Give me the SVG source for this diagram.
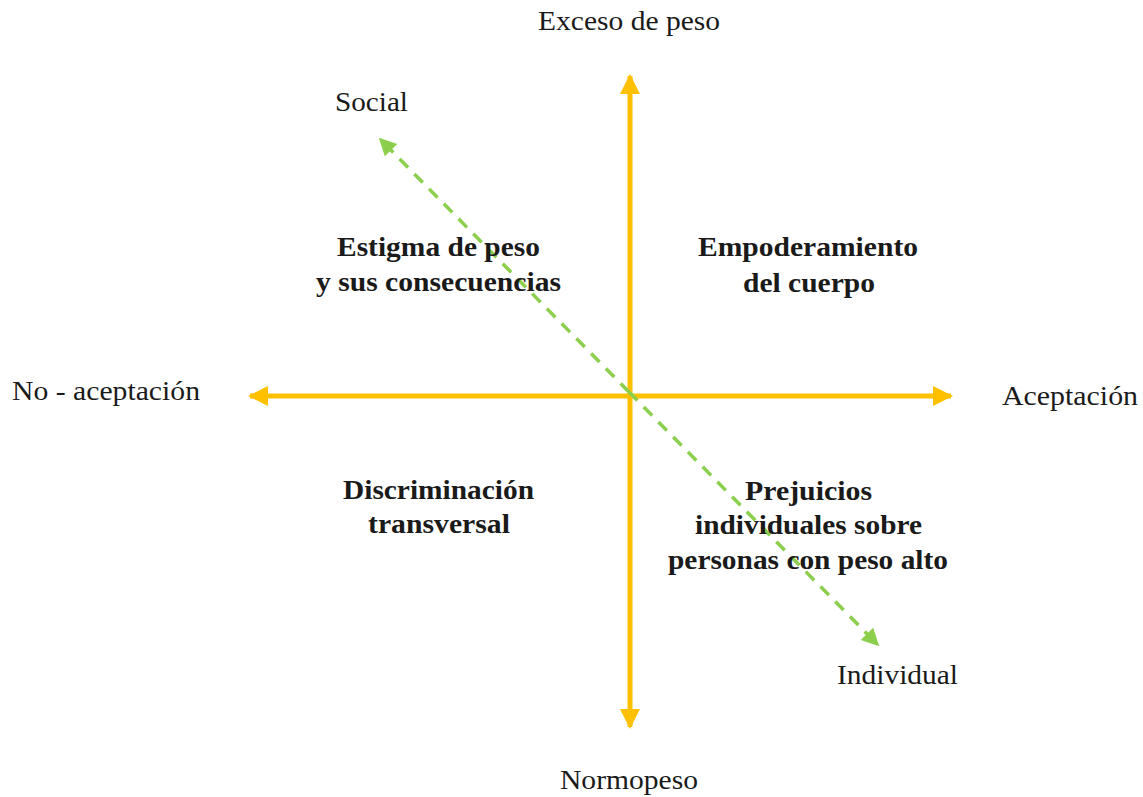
<svg xmlns="http://www.w3.org/2000/svg" width="1143" height="797" viewBox="0 0 1143 797">
<style>
.lbl{font-family:"Liberation Serif","Times New Roman",serif;font-size:27px;fill:#1a1a1a;text-anchor:middle}
.q{font-family:"Liberation Serif","Times New Roman",serif;font-size:27px;font-weight:bold;fill:#1a1a1a;text-anchor:middle}
.ax{stroke:#FFC000;stroke-width:5;fill:none}
.dg{stroke:#8CCF4D;stroke-width:3.5;stroke-dasharray:12,9;fill:none}
</style>
<defs>
<marker id="ya" viewBox="0 0 10 10" refX="9" refY="5" markerWidth="4" markerHeight="4.4" orient="auto" markerUnits="strokeWidth">
<path d="M0,0 L10,5 L0,10 Z" fill="#FFC000"/>
</marker>
<marker id="ga" viewBox="0 0 10 10" refX="9" refY="5" markerWidth="5.5" markerHeight="5" orient="auto" markerUnits="strokeWidth">
<path d="M0,0 L10,5 L0,10 Z" fill="#8CCF4D"/>
</marker>
</defs>
<rect width="1143" height="797" fill="#fff"/>
<g id="connectors">
<line class="ax" x1="630" y1="396" x2="630" y2="76" marker-end="url(#ya)"/>
<line class="ax" x1="630" y1="396" x2="630" y2="727" marker-end="url(#ya)"/>
<line class="ax" x1="630" y1="396" x2="250" y2="396" marker-end="url(#ya)"/>
<line class="ax" x1="630" y1="396" x2="951" y2="396" marker-end="url(#ya)"/>
<line class="dg" x1="629" y1="392" x2="380" y2="139" marker-end="url(#ga)"/>
<line class="dg" x1="629" y1="392" x2="878" y2="645" marker-end="url(#ga)"/>
</g>
<g id="n-exceso"><text class="lbl" x="629" y="30" textLength="182" lengthAdjust="spacingAndGlyphs">Exceso de peso</text></g>
<g id="n-normopeso"><text class="lbl" x="629" y="789" textLength="138" lengthAdjust="spacingAndGlyphs">Normopeso</text></g>
<g id="n-noaceptacion"><text class="lbl" x="106" y="400" textLength="188" lengthAdjust="spacingAndGlyphs">No - aceptación</text></g>
<g id="n-aceptacion"><text class="lbl" x="1070" y="405" textLength="136" lengthAdjust="spacingAndGlyphs">Aceptación</text></g>
<g id="n-social"><text class="lbl" x="371.5" y="111" textLength="73" lengthAdjust="spacingAndGlyphs">Social</text></g>
<g id="n-individual"><text class="lbl" x="897.5" y="684" textLength="121" lengthAdjust="spacingAndGlyphs">Individual</text></g>
<g id="q-estigma"><text class="q" x="438.5" y="256" textLength="203" lengthAdjust="spacingAndGlyphs">Estigma de peso</text><text class="q" x="438.5" y="291" textLength="245" lengthAdjust="spacingAndGlyphs">y sus consecuencias</text></g>
<g id="q-empoderamiento"><text class="q" x="808" y="256" textLength="220" lengthAdjust="spacingAndGlyphs">Empoderamiento</text><text class="q" x="809" y="292" textLength="132" lengthAdjust="spacingAndGlyphs">del cuerpo</text></g>
<g id="q-discriminacion"><text class="q" x="438.5" y="499" textLength="191" lengthAdjust="spacingAndGlyphs">Discriminación</text><text class="q" x="439" y="533" textLength="142" lengthAdjust="spacingAndGlyphs">transversal</text></g>
<g id="q-prejuicios"><text class="q" x="808.5" y="500" textLength="127" lengthAdjust="spacingAndGlyphs">Prejuicios</text><text class="q" x="808.5" y="534" textLength="227" lengthAdjust="spacingAndGlyphs">individuales sobre</text><text class="q" x="808" y="569" textLength="280" lengthAdjust="spacingAndGlyphs">personas con peso alto</text></g>
</svg>
